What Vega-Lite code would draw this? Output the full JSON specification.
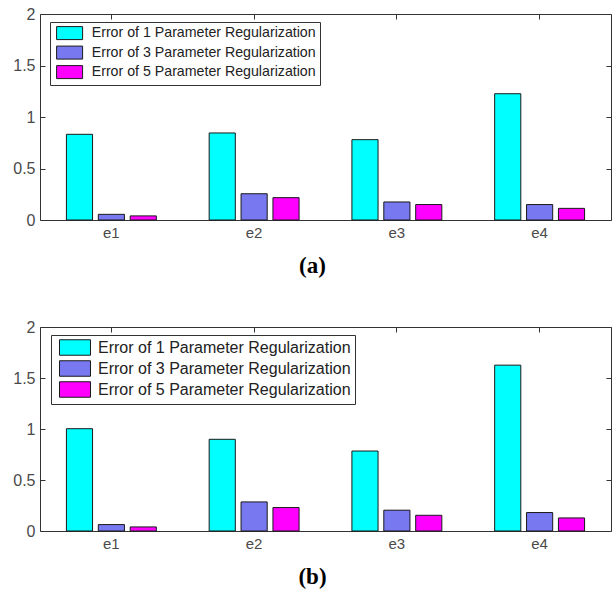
{
  "$schema": "https://vega.github.io/schema/vega-lite/v6.json",
  "padding": {"left": 12, "top": 5, "right": 2, "bottom": 0},
  "background": "white",
  "datasets": {
    "vals": [
      {"panel": "a", "exp": "e1", "method": "Error of 1 Parameter Regularization", "error": 0.832},
      {"panel": "a", "exp": "e1", "method": "Error of 3 Parameter Regularization", "error": 0.055},
      {"panel": "a", "exp": "e1", "method": "Error of 5 Parameter Regularization", "error": 0.04},
      {"panel": "a", "exp": "e2", "method": "Error of 1 Parameter Regularization", "error": 0.845},
      {"panel": "a", "exp": "e2", "method": "Error of 3 Parameter Regularization", "error": 0.255},
      {"panel": "a", "exp": "e2", "method": "Error of 5 Parameter Regularization", "error": 0.217},
      {"panel": "a", "exp": "e3", "method": "Error of 1 Parameter Regularization", "error": 0.78},
      {"panel": "a", "exp": "e3", "method": "Error of 3 Parameter Regularization", "error": 0.175},
      {"panel": "a", "exp": "e3", "method": "Error of 5 Parameter Regularization", "error": 0.15},
      {"panel": "a", "exp": "e4", "method": "Error of 1 Parameter Regularization", "error": 1.226},
      {"panel": "a", "exp": "e4", "method": "Error of 3 Parameter Regularization", "error": 0.15},
      {"panel": "a", "exp": "e4", "method": "Error of 5 Parameter Regularization", "error": 0.113},
      {"panel": "b", "exp": "e1", "method": "Error of 1 Parameter Regularization", "error": 1.003},
      {"panel": "b", "exp": "e1", "method": "Error of 3 Parameter Regularization", "error": 0.063},
      {"panel": "b", "exp": "e1", "method": "Error of 5 Parameter Regularization", "error": 0.04},
      {"panel": "b", "exp": "e2", "method": "Error of 1 Parameter Regularization", "error": 0.899},
      {"panel": "b", "exp": "e2", "method": "Error of 3 Parameter Regularization", "error": 0.285},
      {"panel": "b", "exp": "e2", "method": "Error of 5 Parameter Regularization", "error": 0.23},
      {"panel": "b", "exp": "e3", "method": "Error of 1 Parameter Regularization", "error": 0.784},
      {"panel": "b", "exp": "e3", "method": "Error of 3 Parameter Regularization", "error": 0.204},
      {"panel": "b", "exp": "e3", "method": "Error of 5 Parameter Regularization", "error": 0.154},
      {"panel": "b", "exp": "e4", "method": "Error of 1 Parameter Regularization", "error": 1.626},
      {"panel": "b", "exp": "e4", "method": "Error of 3 Parameter Regularization", "error": 0.181},
      {"panel": "b", "exp": "e4", "method": "Error of 5 Parameter Regularization", "error": 0.128}
    ]
  },
  "config": {
    "view": {"stroke": "#333333", "strokeWidth": 1},
    "axis": {"grid": false, "labelFont": "Liberation Sans", "labelColor": "#4a4a4a", "labelFontSize": 16, "domain": false, "tickColor": "#333333", "tickSize": -5, "labelPadding": 10}
  },
  "spacing": 40,
  "resolve": {"scale": {"color": "independent"}, "legend": {"color": "independent"}},
  "vconcat": [
    {
      "width": 571,
      "height": 206,
      "data": {"name": "vals"},
      "transform": [{"filter": "datum.panel === 'a'"}],
      "layer": [
        {
          "mark": {"type": "bar", "stroke": "#1a1a1a", "strokeWidth": 1},
          "encoding": {
            "x": {"field": "exp", "type": "nominal", "scale": {"paddingInner": 0.37, "paddingOuter": 0.185},
                  "axis": {"title": "(a)", "labelAngle": 0, "titleFont": "Liberation Serif", "titleFontWeight": "bold", "titleFontSize": 23, "titleColor": "black", "titleX": 272, "titleY": 45, "titleBaseline": "middle", "labelFontSize": 15}},
            "xOffset": {"field": "method", "type": "nominal", "scale": {"paddingInner": 0.18}},
            "y": {"field": "error", "type": "quantitative", "scale": {"domain": [0, 2], "nice": false},
                  "axis": {"title": null, "values": [0, 0.5, 1, 1.5, 2], "format": "~g", "labelPadding": 10}},
            "color": {"field": "method", "type": "nominal",
                      "scale": {"range": ["#00FFFF", "#7878F0", "#FF00FF"]},
                      "legend": {"title": null, "orient": "none", "legendX": 10, "legendY": 8, "direction": "vertical",
                                 "strokeColor": "#333333", "fillColor": "white", "padding": 4,
                                 "symbolType": "M-2,-1H2V1H-2Z", "symbolSize": 169, "symbolOffset": 8.5, "symbolStrokeColor": "#1a1a1a", "symbolStrokeWidth": 1, "symbolOpacity": 1,
                                 "labelFont": "Liberation Sans", "labelFontSize": 14.2, "labelColor": "#222222", "labelLimit": 400, "rowPadding": 1.5, "labelOffset": 15,
                                 "labelExpr": "datum.label + '\u00a0\u00a0\u00a0'"}}
          }
        },
        {
          "mark": {"type": "bar", "opacity": 0},
          "encoding": {
            "x": {"field": "exp", "type": "nominal", "axis": {"orient": "top", "labels": false, "title": null}},
            "y": {"field": "error", "type": "quantitative", "axis": {"orient": "right", "labels": false, "title": null, "values": [0, 0.5, 1, 1.5, 2]}}
          }
        }
      ],
      "resolve": {"axis": {"x": "independent", "y": "independent"}}
    },
    {
      "width": 571,
      "height": 204,
      "data": {"name": "vals"},
      "transform": [{"filter": "datum.panel === 'b'"}],
      "layer": [
        {
          "mark": {"type": "bar", "stroke": "#1a1a1a", "strokeWidth": 1},
          "encoding": {
            "x": {"field": "exp", "type": "nominal", "scale": {"paddingInner": 0.37, "paddingOuter": 0.185},
                  "axis": {"title": "(b)", "labelAngle": 0, "titleFont": "Liberation Serif", "titleFontWeight": "bold", "titleFontSize": 23, "titleColor": "black", "titleX": 272, "titleY": 45, "titleBaseline": "middle", "labelFontSize": 15}},
            "xOffset": {"field": "method", "type": "nominal", "scale": {"paddingInner": 0.18}},
            "y": {"field": "error", "type": "quantitative", "scale": {"domain": [0, 2], "nice": false},
                  "axis": {"title": null, "values": [0, 0.5, 1, 1.5, 2], "format": "~g", "labelPadding": 10}},
            "color": {"field": "method", "type": "nominal",
                      "scale": {"range": ["#00FFFF", "#7878F0", "#FF00FF"]},
                      "legend": {"title": null, "orient": "none", "legendX": 11, "legendY": 8, "direction": "vertical",
                                 "strokeColor": "#333333", "fillColor": "white", "padding": 4,
                                 "symbolType": "M-2,-1H2V1H-2Z", "symbolSize": 240, "symbolOffset": 11.5, "symbolStrokeColor": "#1a1a1a", "symbolStrokeWidth": 1, "symbolOpacity": 1,
                                 "labelFont": "Liberation Sans", "labelFontSize": 16, "labelColor": "#222222", "labelLimit": 400, "rowPadding": 0, "labelOffset": 14.5,
                                 "labelExpr": "datum.label + '\u00a0\u00a0'"}}
          }
        },
        {
          "mark": {"type": "bar", "opacity": 0},
          "encoding": {
            "x": {"field": "exp", "type": "nominal", "axis": {"orient": "top", "labels": false, "title": null}},
            "y": {"field": "error", "type": "quantitative", "axis": {"orient": "right", "labels": false, "title": null, "values": [0, 0.5, 1, 1.5, 2]}}
          }
        }
      ],
      "resolve": {"axis": {"x": "independent", "y": "independent"}}
    }
  ]
}
